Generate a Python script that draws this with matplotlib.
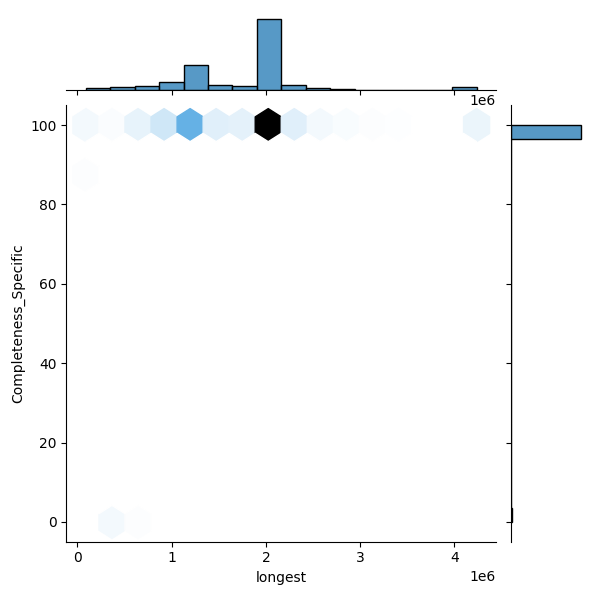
import numpy as np
import pandas as pd
import matplotlib
matplotlib.use("Agg")
import matplotlib.pyplot as plt
import seaborn as sns
from seaborn.utils import set_hls_values
from seaborn.palettes import blend_palette

# valores (x = longest, y = Completeness_Specific, n = quantidade)
longest_100 = [90000, 366000, 643000, 919000, 1195000, 1472000, 1748000,
               2024000, 2300000, 2577000, 2853000, 3129000, 3406000, 4235000]
count_100 = [6, 3, 12, 24, 75, 15, 14, 212, 15, 6, 4, 2, 1, 10]

longest_87 = [90000]
count_87 = [2]

longest_0 = [366000, 643000]
count_0 = [6, 2]

xs = np.concatenate([np.repeat(longest_100, count_100),
                     np.repeat(longest_87, count_87),
                     np.repeat(longest_0, count_0)])
ys = np.concatenate([np.full(sum(count_100), 100.0),
                     np.full(sum(count_87), 87.5),
                     np.full(sum(count_0), 0.0)])

df = pd.DataFrame({"longest": xs, "Completeness_Specific": ys})

# mesmo colormap que o jointplot(kind="hex") usa
color_rgb = matplotlib.colors.to_rgb("C0")
colors = [set_hls_values(color_rgb, l=l) for l in np.linspace(1, 0, 12)]
cmap = blend_palette(colors, as_cmap=True)

g = sns.JointGrid(data=df, x="longest", y="Completeness_Specific", height=6)
g.plot_joint(plt.hexbin, gridsize=15, cmap=cmap)
sns.histplot(data=df, x="longest", ax=g.ax_marg_x, bins=16, fill=True)
sns.histplot(data=df, y="Completeness_Specific", ax=g.ax_marg_y, bins=28, fill=True)
g.set_axis_labels("longest", "Completeness_Specific")

plt.savefig("out.png", dpi=100)
